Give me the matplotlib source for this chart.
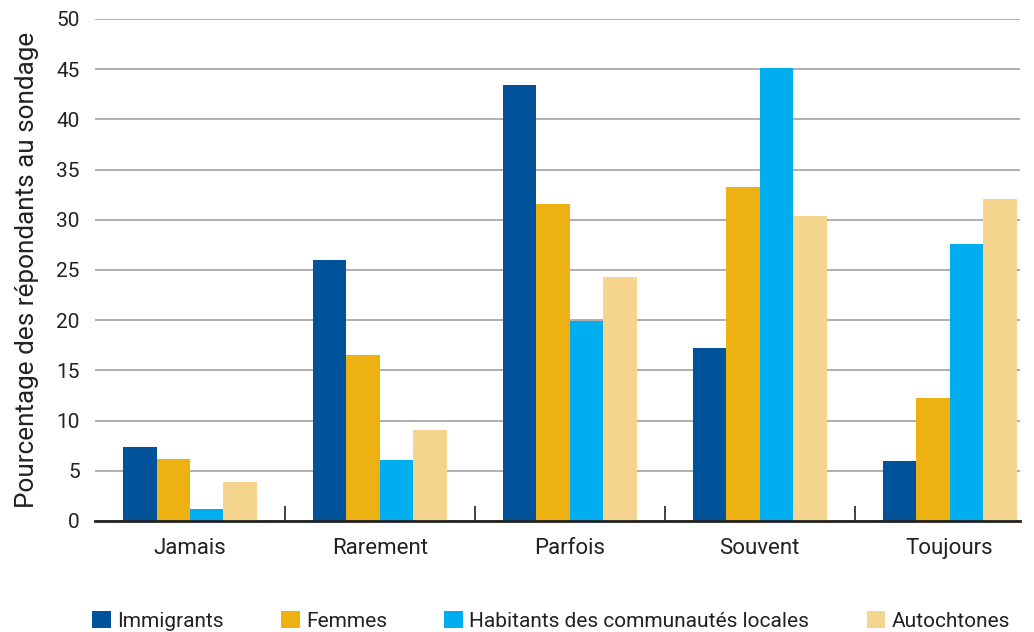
import numpy as np
import matplotlib
matplotlib.use("Agg")
import matplotlib.pyplot as plt

plt.rcParams['font.family'] = ['Roboto', 'DejaVu Sans']

categories = ["Jamais", "Rarement", "Parfois", "Souvent", "Toujours"]
series_names = ["Immigrants", "Femmes", "Habitants des communautés locales", "Autochtones"]
immigrants = [7.4, 26.0, 43.4, 17.2, 6.0]
femmes = [6.2, 16.5, 31.6, 33.3, 12.3]
habitants = [1.2, 6.1, 19.9, 45.1, 27.6]
autochtones = [3.9, 9.1, 24.3, 30.4, 32.1]
colors = ["#00529B", "#EDB111", "#00AEEF", "#F5D48E"]

values = [immigrants, femmes, habitants, autochtones]

fig = plt.figure(figsize=(10.34, 6.32), dpi=100)
ax = fig.add_axes([95/1034, 1 - 521/632, (1020 - 95)/1034, (521 - 19)/632])

x = np.arange(len(categories))
w = 0.176
for i, (name, vals) in enumerate(zip(series_names, values)):
    ax.bar(x + (i - 1.5) * w, vals, width=w, color=colors[i], label=name, zorder=3)

ax.set_ylim(0, 50)
ax.set_xlim(-0.5, 4.37)
ax.set_yticks(np.arange(0, 51, 5))
ax.yaxis.grid(True, color="#a8a8a8", linewidth=1.3, zorder=0)
ax.set_axisbelow(True)
for s in ["top", "right", "left"]:
    ax.spines[s].set_visible(False)
ax.spines["bottom"].set_color("#222222")
ax.spines["bottom"].set_linewidth(2)
ax.spines["bottom"].set_zorder(4)

ax.set_xticks(x)
ax.set_xticklabels(categories, fontsize=16, color="#222222")
ax.tick_params(axis="x", length=0, pad=12)
ax.set_xticks(x[:-1] + 0.5, minor=True)
ax.tick_params(axis="x", which="minor", direction="in", length=11, width=1.2, color="#222222")
ax.tick_params(axis="y", length=0, labelsize=15, labelcolor="#222222", pad=11)

ax.set_ylabel("Pourcentage des répondants au sondage", fontsize=18.8, color="#222222")
ax.yaxis.set_label_coords(-0.06, 0.5)

fig.legend(loc="center left", bbox_to_anchor=(84/1034, 1 - 621/632), ncol=4, frameon=False,
           fontsize=15, handlelength=0.9, handleheight=0.9, handletextpad=0.3,
           columnspacing=2.75, borderaxespad=0, labelcolor="#222222")

fig.savefig("out.png", dpi=100)
